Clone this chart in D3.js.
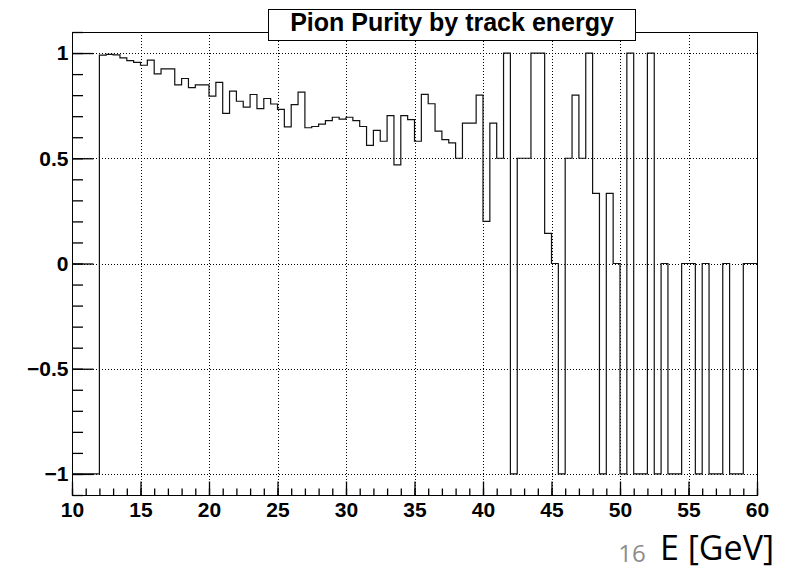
<!DOCTYPE html>
<html>
<head>
<meta charset="utf-8">
<script src="https://cdn.jsdelivr.net/npm/d3@7"></script>
<style>
  body { margin: 0; background: #fff; }
  svg { display: block; }
</style>
</head>
<body>
<div id="chart"></div>
<script>
// histogram: 100 bins of 0.5 GeV from 10 to 60
const binStart = 10;
const binWidth = 0.5;
const purity = [
  -1, -1, -1, -1,
  0.990, 0.994, 0.991, 0.977, 0.964, 0.956, 0.942, 0.966, 0.901, 0.925,
  0.925, 0.849, 0.879, 0.836, 0.849, 0.849, 0.795, 0.861, 0.713, 0.819,
  0.771, 0.743, 0.803, 0.736, 0.784, 0.758, 0.732, 0.649, 0.755, 0.814,
  0.645, 0.651, 0.662, 0.679, 0.695, 0.686, 0.695, 0.679, 0.651, 0.561,
  0.633, 0.581, 0.703, 0.469, 0.703, 0.684, 0.581, 0.804, 0.759, 0.629,
  0.589, 0.573, 0.5, 0.667, 0.667, 0.8, 0.2, 0.667, 0.5, 1,
  -1, 0.5, 0.5, 1, 1, 0.143, 0, -1, 0.5, 0.8,
  0.5, 1, 0.333, -1, 0.333, 0, -1, 1, -1, -1,
  1, -1, 0, -1, -1, 0, 0, -1, 0, -1,
  -1, 0, -1, -1, 0, 0
];

const xTicks = [10, 15, 20, 25, 30, 35, 40, 45, 50, 55, 60];
const xMinorTicks = d3.range(10, 61, 1);
const yTicks = [-1, -0.5, 0, 0.5, 1];
const yMinorTicks = d3.range(-11, 12).map(d => d / 10);

const title = 'Pion Purity by track energy';
const xTitle = 'E [GeV]';
const pageNumber = '16';

const width = 792, height = 571;
const frame = { left: 72, right: 757, top: 32, bottom: 495 };

const svg = d3.select('#chart').append('svg')
  .attr('width', width)
  .attr('height', height);

const x = d3.scaleLinear().domain([10, 60]).range([frame.left, frame.right]);
const y = d3.scaleLinear().domain([-1.1, 1.1]).range([frame.bottom, frame.top]);

// dotted grid at major ticks
const grid = svg.append('g')
  .attr('stroke', '#000')
  .attr('stroke-width', 1)
  .attr('stroke-dasharray', '1,2');

grid.selectAll('line.gx')
  .data(xTicks.slice(1, -1))
  .join('line')
  .attr('class', 'gx')
  .attr('x1', d => Math.round(x(d)) + 0.5)
  .attr('x2', d => Math.round(x(d)) + 0.5)
  .attr('y1', frame.top)
  .attr('y2', frame.bottom);

grid.selectAll('line.gy')
  .data(yTicks)
  .join('line')
  .attr('class', 'gy')
  .attr('x1', frame.left)
  .attr('x2', frame.right)
  .attr('y1', d => Math.round(y(d)) + 0.5)
  .attr('y2', d => Math.round(y(d)) + 0.5);

// frame
svg.append('rect')
  .attr('x', frame.left + 0.5)
  .attr('y', frame.top + 0.5)
  .attr('width', frame.right - frame.left)
  .attr('height', frame.bottom - frame.top)
  .attr('fill', 'none')
  .attr('stroke', '#000')
  .attr('stroke-width', 1);

// histogram outline
const steps = [];
purity.forEach((v, i) => {
  const lo = binStart + i * binWidth;
  steps.push([lo, v], [lo + binWidth, v]);
});

svg.append('path')
  .datum(steps)
  .attr('fill', 'none')
  .attr('stroke', '#111')
  .attr('stroke-width', 1.2)
  .attr('d', d3.line().x(d => x(d[0])).y(d => y(d[1])));

// axes, ticks pointing inward like ROOT
const fontFamily = '"Liberation Sans", Arial, Helvetica, sans-serif';

svg.append('g')
  .attr('transform', `translate(0,${frame.bottom + 0.5})`)
  .call(d3.axisBottom(x).tickValues(xTicks).tickSizeInner(-14).tickSizeOuter(0)
    .tickPadding(7).tickFormat(d3.format('~g')));

svg.append('g')
  .attr('transform', `translate(0,${frame.bottom + 0.5})`)
  .call(d3.axisBottom(x).tickValues(xMinorTicks).tickSizeInner(-7).tickSizeOuter(0)
    .tickFormat(''));

svg.append('g')
  .attr('transform', `translate(${frame.left + 0.5},0)`)
  .call(d3.axisLeft(y).tickValues(yTicks).tickSizeInner(-21).tickSizeOuter(0)
    .tickPadding(4).tickFormat(d3.format('~g')));

svg.append('g')
  .attr('transform', `translate(${frame.left + 0.5},0)`)
  .call(d3.axisLeft(y).tickValues(yMinorTicks).tickSizeInner(-10.5).tickSizeOuter(0)
    .tickFormat(''));

svg.selectAll('.domain').remove();
svg.selectAll('.tick line').attr('stroke', '#000').attr('stroke-width', 1.3);
svg.selectAll('.tick text')
  .attr('fill', '#000')
  .style('font-family', fontFamily)
  .style('font-weight', 'bold')
  .style('font-size', '21px');

// title box
const titleBox = svg.append('g');
titleBox.append('rect')
  .attr('x', 268.5)
  .attr('y', 9.5)
  .attr('width', 367)
  .attr('height', 31)
  .attr('fill', '#fff')
  .attr('stroke', '#000')
  .attr('stroke-width', 1);

titleBox.append('text')
  .attr('x', 452)
  .attr('y', 31)
  .attr('text-anchor', 'middle')
  .style('font-family', fontFamily)
  .style('font-weight', 'bold')
  .style('font-size', '25px')
  .text(title);

// slide annotations below the plot
svg.append('text')
  .attr('x', 632)
  .attr('y', 562)
  .attr('text-anchor', 'middle')
  .attr('fill', '#8c8c8c')
  .style('font-family', '"Open Sans", "Noto Sans", sans-serif')
  .style('font-size', '24px')
  .text(pageNumber);

svg.append('text')
  .attr('x', 717)
  .attr('y', 560)
  .attr('text-anchor', 'middle')
  .attr('fill', '#000')
  .style('font-family', '"Open Sans", "Noto Sans", sans-serif')
  .style('font-size', '34px')
  .text(xTitle);
</script>
</body>
</html>
